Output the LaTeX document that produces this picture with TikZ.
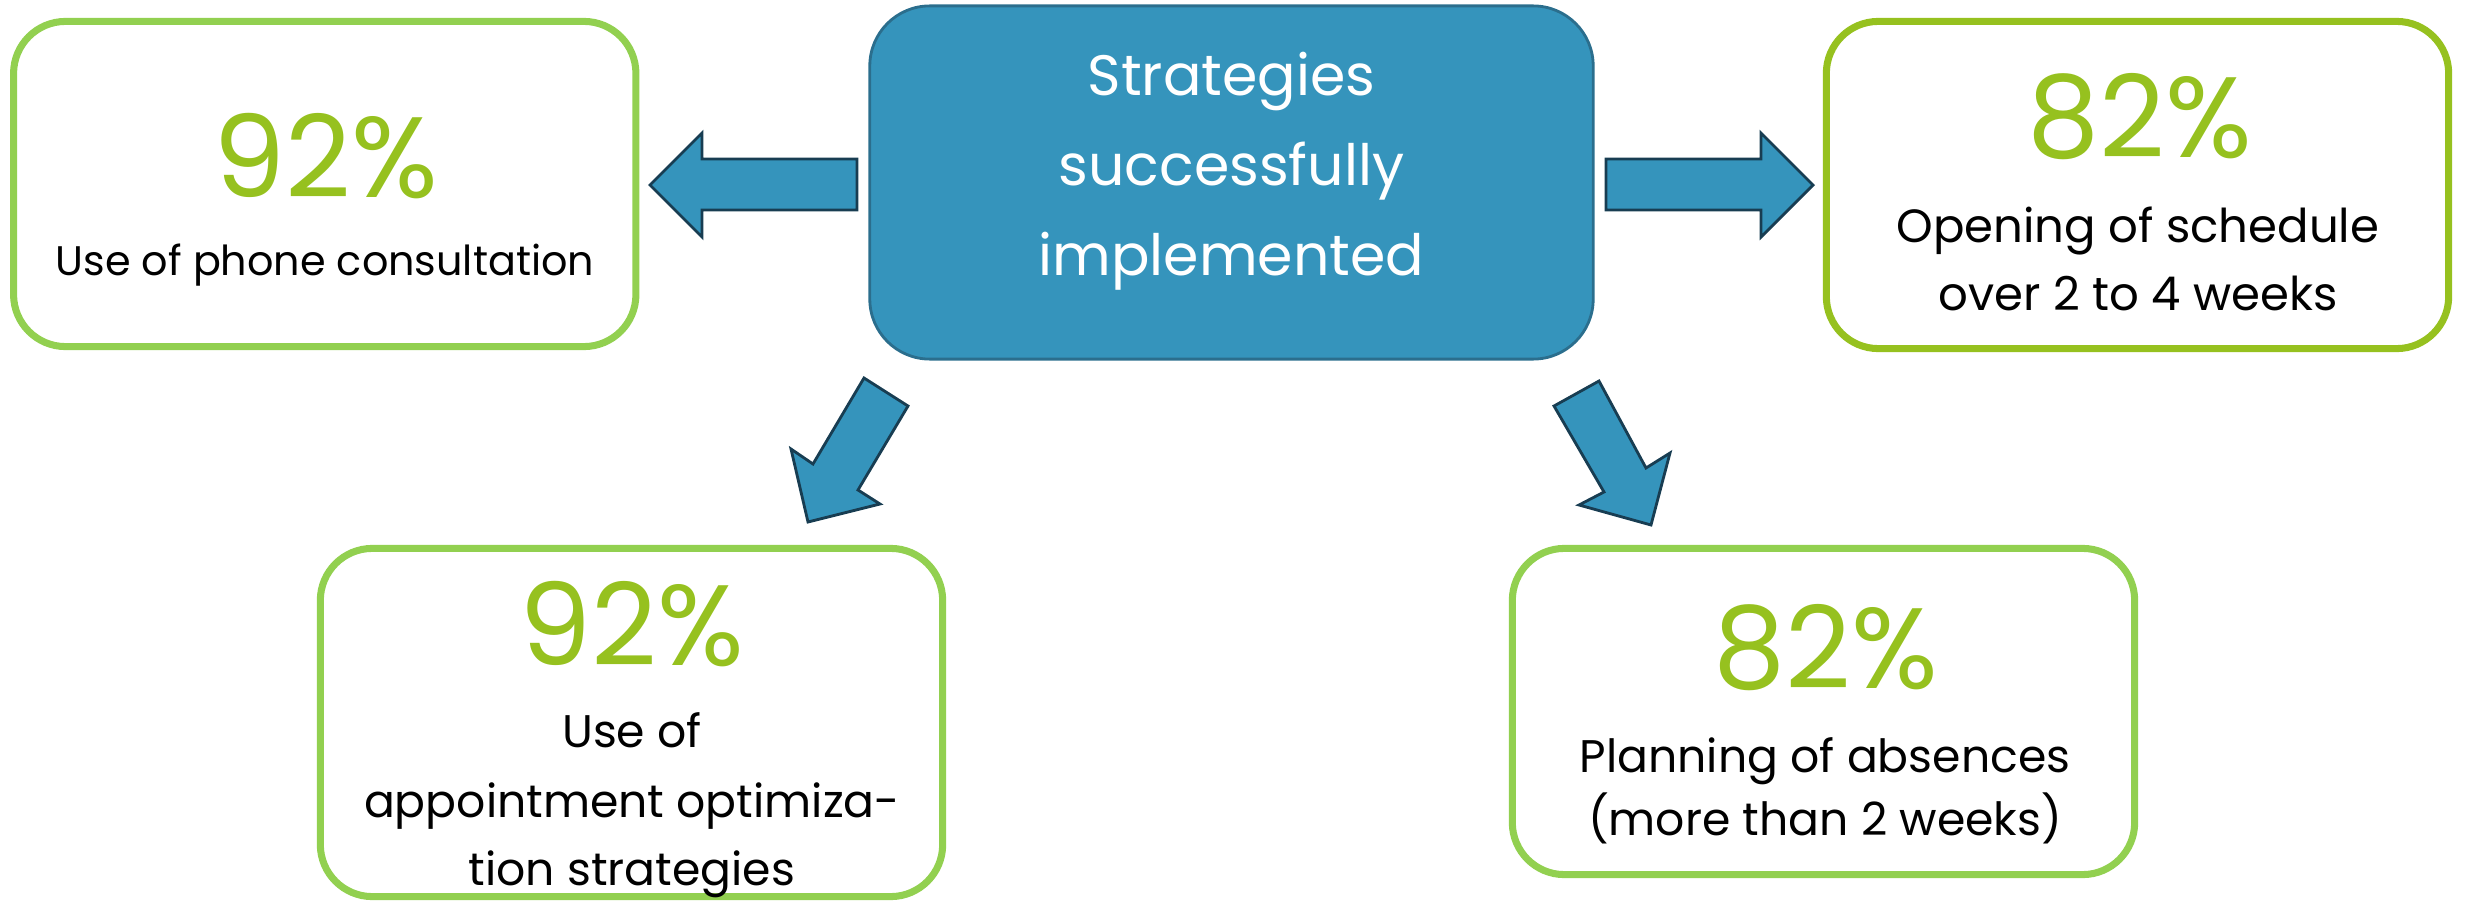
\documentclass[tikz,border=0pt]{standalone}
\usepackage{fontspec}
\setmainfont{Poppins}
\definecolor{lgreen}{HTML}{92D050}
\definecolor{ygreen}{HTML}{96C11F}
\definecolor{cblue}{HTML}{3594BC}
\definecolor{cbord}{HTML}{2B6E8D}
\definecolor{abord}{HTML}{183D52}
\tikzset{
  greenbox/.style={draw=lgreen, line width=2pt, rounded corners=0.52cm, minimum width=6.22cm, inner sep=0pt},
  centerbox/.style={draw=cbord, fill=cblue, line width=0.8pt, rounded corners=0.6cm, minimum width=7.23cm, minimum height=3.53cm, inner sep=0pt},
  blockarrow/.style={draw=abord, fill=cblue, line width=0.8pt, line join=miter},
  pct/.style={anchor=base, inner sep=0pt, text=ygreen, font=\fontsize{32.5pt}{38pt}\selectfont},
  ctext/.style={anchor=base, inner sep=0pt, text=white, font=\fontsize{16.2pt}{20pt}\selectfont},
  stext/.style={anchor=base, inner sep=0pt, text=black, font=\fontsize{11.75pt}{14pt}\selectfont},
  mtext/.style={anchor=base, inner sep=0pt, text=black, font=\fontsize{13pt}{15pt}\selectfont},
}
\begin{document}
\begin{tikzpicture}[x=0.01cm,y=-0.01cm]
\useasboundingbox (0,0) rectangle (2465,903);
% boxes
\node[centerbox] (C) at (1231.5,182.5) {};
\node[greenbox, minimum height=3.25cm] (L) at (324.75,184) {};
\node[greenbox, draw=ygreen, minimum height=3.27cm] (R) at (2137.5,185) {};
\node[greenbox, minimum height=3.48cm] (BL) at (631.5,722.5) {};
\node[greenbox, minimum height=3.26cm] (BR) at (1823.5,711.5) {};
% center text
\node[ctext] (c1) at (1231.5,95) {Strategies};
\node[ctext] (c2) at (1231.5,185) {successfully};
\node[ctext] (c3) at (1231.5,275) {implemented};
% left
\node[pct] (l1) at (326,197) {92\%};
\node[stext] (l2) at (325,275) {Use of phone consultation};
% right
\node[pct] (r1) at (2140,157) {82\%};
\node[mtext, font=\fontsize{13.25pt}{15pt}\selectfont] (r2) at (2138,242) {Opening of schedule};
\node[mtext, font=\fontsize{13.25pt}{15pt}\selectfont] (r3) at (2138,310) {over 2 to 4 weeks};
% bottom left
\node[pct] (bl1) at (632,665) {92\%};
\node[mtext] (bl2) at (632,747) {Use of};
\node[mtext] (bl3) at (632,817) {appointment optimiza-};
\node[mtext] (bl4) at (632,885) {tion strategies};
% bottom right
\node[pct] (br1) at (1826,688) {82\%};
\node[mtext] (br2) at (1825,772) {Planning of absences};
\node[mtext] (br3) at (1825,835) {(more than 2 weeks)};
% block arrows
\draw[blockarrow] (857,159) -- (702,159) -- (702,133) -- (650,185) -- (702,237) -- (702,210) -- (857,210) -- cycle;
\draw[blockarrow] (1606,159) -- (1761,159) -- (1761,133) -- (1813,185) -- (1761,237) -- (1761,210) -- (1606,210) -- cycle;
\draw[blockarrow] (864,378) -- (908,406) -- (858,490) -- (880,504) -- (808,522) -- (791,449) -- (813,464) -- cycle;
\draw[blockarrow] (1599,381) -- (1554,406) -- (1604,492) -- (1579,505) -- (1651,525) -- (1670,453) -- (1646,468) -- cycle;
\end{tikzpicture}
\end{document}
